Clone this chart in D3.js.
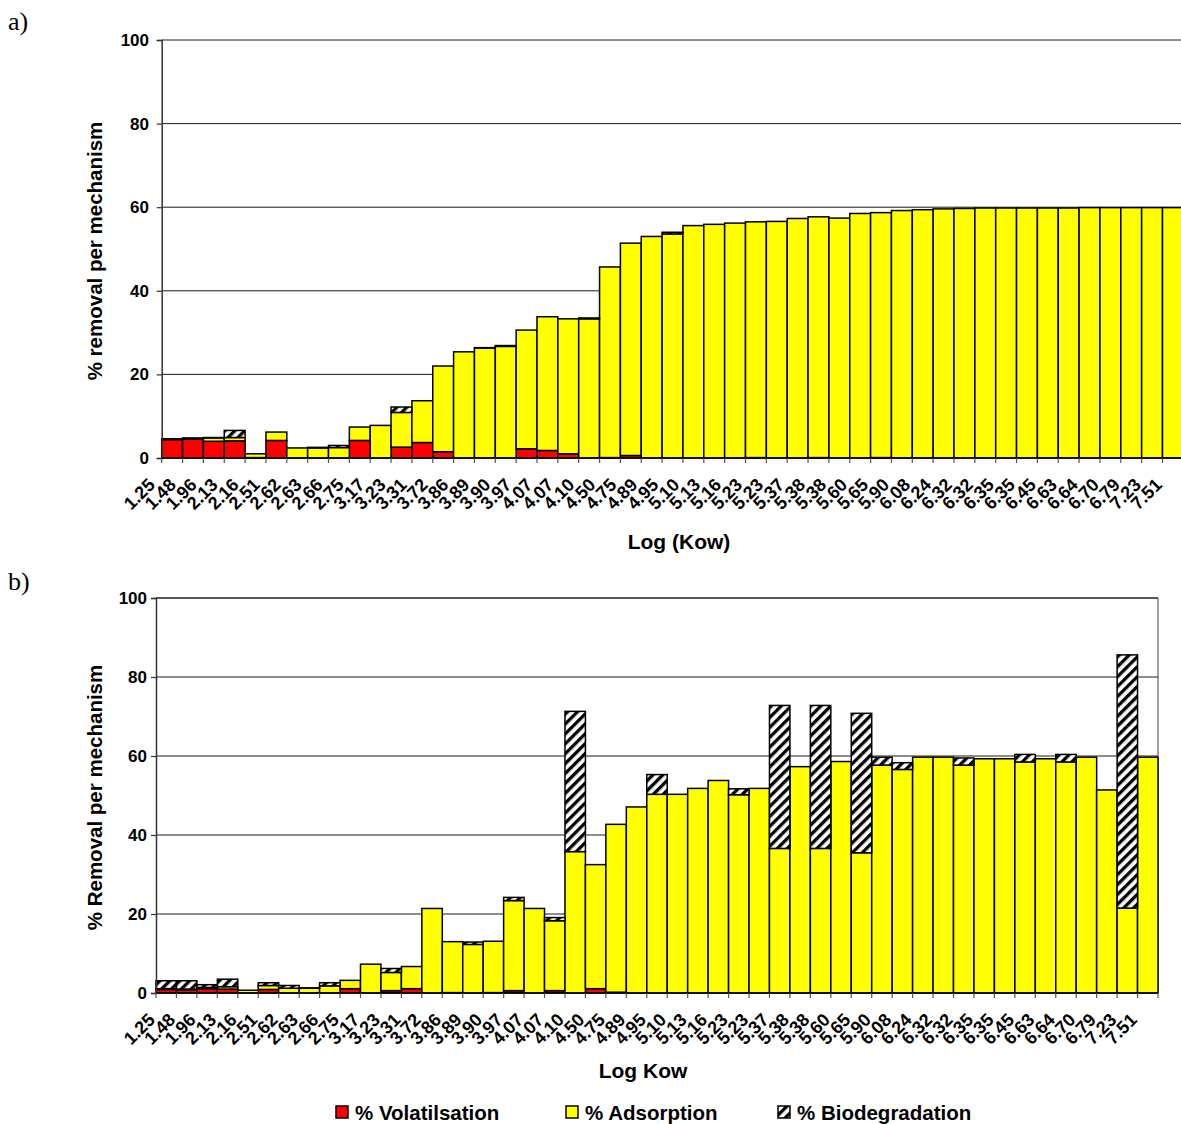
<!DOCTYPE html>
<html><head><meta charset="utf-8">
<script src="https://cdn.jsdelivr.net/npm/d3@7"></script>
<style>
html,body{margin:0;padding:0;background:#fff;}
svg{display:block;}
text{font-family:"Liberation Sans",Arial,sans-serif;font-weight:bold;fill:#000;}
text.letter{font-family:"Liberation Serif","Times New Roman",serif;font-weight:normal;}
</style></head>
<body><svg id="c" width="1181" height="1124"></svg>
<script>
const categories = ["1.25","1.48","1.96","2.13","2.16","2.51","2.62","2.63","2.66","2.75","3.17","3.23","3.31","3.72","3.86","3.89","3.90","3.97","4.07","4.07","4.10","4.50","4.75","4.89","4.95","5.10","5.13","5.16","5.23","5.23","5.37","5.38","5.38","5.60","5.65","5.90","6.08","6.24","6.32","6.32","6.35","6.35","6.45","6.63","6.64","6.70","6.79","7.23","7.51"];
const yTicks = [0,20,40,60,80,100];
const seriesNames = ["% Volatilsation","% Adsorption","% Biodegradation"];

// Panel a
const volA = [4.4,4.5,4.0,4.1,0.1,4.2,0,0,0,4.2,0,2.6,3.7,1.5,0,0,0,2.2,1.8,1.0,0,0.1,0.6,0,0,0,0,0,0.1,0,0,0.1,0,0,0.1,0,0,0,0,0,0,0,0,0,0,0,0,0,0];
const adsA = [0.2,0.3,0.8,0.8,0.9,2.0,2.4,2.4,2.5,3.2,7.8,8.3,10.0,20.5,25.4,26.3,26.7,28.4,32.0,32.3,33.3,45.6,50.8,53.0,53.6,55.6,55.9,56.2,56.4,56.6,57.3,57.6,57.4,58.5,58.6,59.2,59.4,59.6,59.7,59.8,59.8,59.8,59.8,59.8,59.9,59.9,59.9,59.9,59.9];
const bioA = [0,0,0.1,1.7,0,0,0,0.15,0.5,0,0,1.3,0,0,0,0.1,0.2,0,0,0,0.2,0,0,0,0.4,0,0,0,0,0,0,0,0,0,0,0,0,0,0,0,0,0,0,0,0,0,0,0,0];

// Panel b
const volB = [0.9,0.8,1.1,1.0,0,0.9,0,0,0,1.1,0,0.6,1.1,0,0.1,0,0.1,0.6,0,0.6,0,1.1,0.2,0,0,0,0,0,0,0,0,0,0,0,0,0,0,0,0,0,0,0,0,0,0,0,0,0,0];
const adsB = [0.2,0.2,0.3,0.6,0.7,1.0,1.2,1.2,1.8,2.1,7.3,4.6,5.6,21.4,12.9,12.3,13.0,22.8,21.4,17.7,35.8,31.4,42.5,47.1,50.3,50.3,51.8,53.8,50.2,51.8,36.6,57.3,36.6,58.6,35.5,57.7,56.6,59.7,59.7,57.7,59.3,59.3,58.5,59.3,58.5,59.7,51.4,21.5,59.7];
const bioB = [2.0,2.1,0.7,1.9,0,0.7,0.7,0.1,0.8,0,0,1.0,0,0,0,0.6,0,0.8,0,0.8,35.5,0,0,0,5.0,0,0,0,1.5,0,36.2,0,36.2,0,35.3,2.0,1.7,0,0,1.8,0,0,1.9,0,1.9,0,0,64.1,0];

const svg = d3.select("#c");
const defs = svg.append("defs");
const pat = defs.append("pattern").attr("id","hatch").attr("patternUnits","userSpaceOnUse")
  .attr("width",7).attr("height",7).attr("patternTransform","rotate(45)");
pat.append("rect").attr("width",7).attr("height",7).attr("fill","#fff");
pat.append("rect").attr("x",0).attr("width",3.3).attr("height",7).attr("fill","#000");

const colors = ["#FF0000","#FFFF00","url(#hatch)"];

function panel(cfg){
  const {left,right,top,bottom,vol,ads,bio,lblRange,yTitle,xTitle,xTitleX,xTitleY,box,tickLblX} = cfg;
  const idx = d3.range(categories.length);
  const x = d3.scaleBand().domain(idx).range([left,right]).padding(0);
  const y = d3.scaleLinear().domain([0,100]).range([bottom,top]);
  const g = svg.append("g");
  // gridlines
  g.selectAll("line.grid").data(yTicks.filter(d=>d>0)).join("line")
    .attr("x1",left).attr("x2",box?right:1181).attr("y1",d=>y(d)).attr("y2",d=>y(d))
    .attr("stroke","#1a1a1a").attr("stroke-width",1);
  if(box){
    g.append("line").attr("x1",right).attr("x2",right).attr("y1",top).attr("y2",bottom)
      .attr("stroke","#444").attr("stroke-width",1);
  }
  // stacked bars
  const stackData = idx.map(i=>({i, v:[vol[i],ads[i],bio[i]]}));
  const stacked = d3.stack().keys([0,1,2]).value((d,k)=>d.v[k])(stackData);
  stacked.forEach((layer,k)=>{
    g.append("g").selectAll("rect").data(layer.filter(s=>s[1]-s[0]>0)).join("rect")
      .attr("x",s=>x(s.data.i)).attr("width",x.bandwidth())
      .attr("y",s=>y(s[1])).attr("height",s=>y(s[0])-y(s[1]))
      .attr("fill",colors[k]).attr("stroke","#000").attr("stroke-width",1.5);
  });
  // y axis
  const ya = d3.axisLeft(y).tickValues(yTicks).tickSize(5).tickPadding(8).tickFormat(d3.format("d"));
  const yg = g.append("g").attr("transform",`translate(${left},0)`).call(ya);
  yg.attr("font-family",null).attr("font-size",null);
  yg.select(".domain").attr("stroke","#333").attr("stroke-width",1.5);
  yg.selectAll(".tick line").attr("stroke","#333").attr("stroke-width",1.2);
  yg.selectAll(".tick text").style("font-size","17px").attr("x",tickLblX-left);
  // x axis baseline and ticks at band boundaries
  g.append("line").attr("x1",left).attr("x2",box?right:1181).attr("y1",bottom).attr("y2",bottom)
    .attr("stroke","#000").attr("stroke-width",1.5);
  const bounds = idx.map(i=>x(i)).concat([x(idx[idx.length-1])+x.bandwidth()]);
  g.selectAll("line.xt").data(bounds).join("line")
    .attr("x1",d=>d).attr("x2",d=>d).attr("y1",bottom).attr("y2",bottom+5)
    .attr("stroke","#555").attr("stroke-width",1.2);
  // x tick labels
  const lx = d3.scalePoint().domain(idx).range(lblRange);
  g.selectAll("text.xl").data(idx).join("text")
    .attr("transform",i=>`translate(${lx(i)},${bottom+28}) rotate(-45)`)
    .attr("text-anchor","end").style("font-size","18px").text(i=>categories[i]);
  // titles
  g.append("text").attr("transform",`translate(102,${(top+bottom)/2+2}) rotate(-90)`)
    .attr("text-anchor","middle").style("font-size","20.5px").text(yTitle);
  g.append("text").attr("x",xTitleX).attr("y",xTitleY).attr("text-anchor","middle")
    .style("font-size","21px").text(xTitle);
}

panel({left:161.7,right:161.7+20.85*49,top:40,bottom:458,vol:volA,ads:adsA,bio:bioA,
  lblRange:[156,1163],yTitle:"% removal per mechanism",xTitle:"Log (Kow)",xTitleX:679,xTitleY:549,box:false,tickLblX:149});
panel({left:156,right:1158,top:598,bottom:993,vol:volB,ads:adsB,bio:bioB,
  lblRange:[156,1138],yTitle:"% Removal per mechanism",xTitle:"Log Kow",xTitleX:643,xTitleY:1078,box:true,tickLblX:147});

// top border of panel b
svg.append("line").attr("x1",156).attr("x2",1158).attr("y1",598).attr("y2",598).attr("stroke","#222").attr("stroke-width",1);

// panel letters
svg.append("text").attr("class","letter").attr("x",8).attr("y",30).style("font-size","26px").text("a)");
svg.append("text").attr("class","letter").attr("x",8).attr("y",590).style("font-size","26px").text("b)");

// legend
const legX = [336,566,778];
const lg = svg.append("g");
seriesNames.forEach((n,k)=>{
  lg.append("rect").attr("x",legX[k]).attr("y",1106).attr("width",12).attr("height",12)
    .attr("fill",colors[k]).attr("stroke","#000").attr("stroke-width",1.5);
  lg.append("text").attr("x",legX[k]+19).attr("y",1120).style("font-size","20.5px").text(n);
});
</script></body></html>
